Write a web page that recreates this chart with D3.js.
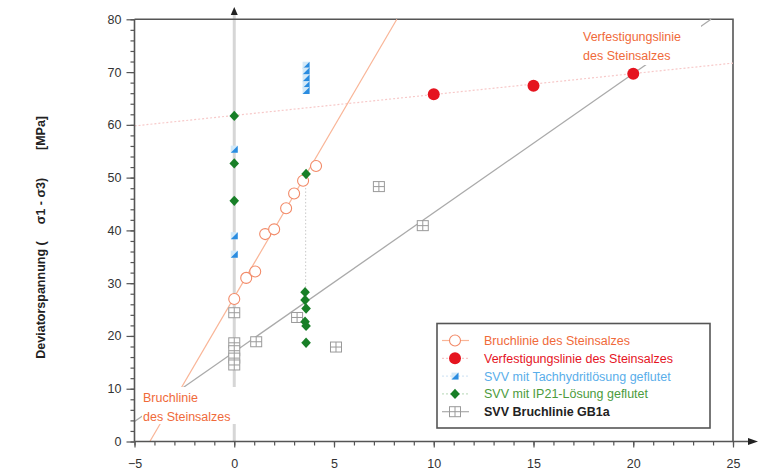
<!DOCTYPE html>
<html><head><meta charset="utf-8">
<script src="https://cdn.jsdelivr.net/npm/d3@7"></script>
<style>
html,body{margin:0;padding:0;background:#fff;}
svg{display:block;font-family:"Liberation Sans",Arial,sans-serif;}
</style></head>
<body>
<svg id="c" width="774" height="472"></svg>
<script>
// ---- data ----
const xTicks = [-5, 0, 5, 10, 15, 20, 25];
const yTicks = [0, 10, 20, 30, 40, 50, 60, 70, 80];
const bruchPts = [[0,27],[0.6,31],[1.05,32.2],[1.55,39.3],[2,40.2],[2.6,44.2],[3,47],[3.45,49.4],[4.1,52.2]];
const verfPts = [[10,65.8],[15,67.4],[20,69.7]];
const tachPts = [[0,55.4],[0,39.0],[0,35.5],[3.6,71.3],[3.6,70.2],[3.6,68.9],[3.6,67.6],[3.6,66.5]];
const ip21Pts = [[0,61.7],[0,52.7],[0,45.6],[3.6,50.7],[3.55,28.3],[3.55,26.8],[3.6,25.2],[3.55,22.7],[3.6,21.9],[3.6,18.7]];
const gb1aPts = [[0,24.4],[0,18.7],[0,17.2],[0,15.8],[0,14.5],[1.1,18.9],[3.15,23.5],[5.1,17.9],[7.25,48.3],[9.45,40.9]];
const bruchLine = [[-4.23,0],[8.15,80]];
const verfLine = [[-5,59.8],[25,71.7]];
const gb1aLine = [[-5,3.8],[23.9,80]];
const ip21Dotted = [[3.58,50.7],[3.58,28.3]];
const legendLabels = ["Bruchlinie des Steinsalzes","Verfestigungslinie des Steinsalzes","SVV mit Tachhydritlösung geflutet","SVV mit IP21-Lösung geflutet","SVV Bruchlinie GB1a"];

// ---- styles ----
const C = {orangeLine:"#f9b597", orangeMk:"#f28a68", orangeTxt:"#f06a3a", red:"#e5141f", redLine:"#f7c9c9",
  blue:"#2a8ce0", blueLight:"#d3e9f8", blueTxt:"#5aaeea", green:"#187f27", greenTxt:"#4c9b3c", greenLine:"#c4e0c4",
  gray:"#aaaaaa", grayMk:"#9a9a9a", axis:"#555", txt:"#333"};

const svg = d3.select("#c");
const x = d3.scaleLinear().domain([-5,25]).range([134.5,733]);
const y = d3.scaleLinear().domain([0,80]).range([441.5,19.3]);
const line = d3.line().x(d=>x(d[0])).y(d=>y(d[1]));

// zero vertical line
svg.append("line").attr("x1",x(0)).attr("x2",x(0)).attr("y1",10).attr("y2",y(0))
  .attr("stroke","#d6d6d6").attr("stroke-width",3);
svg.append("path").attr("d",`M${x(0)-3.5},${15} L${x(0)},${7} L${x(0)+3.5},${15} Z`).attr("fill","#222");

// frame top & right
svg.append("path").attr("d",`M${x(-5)},${y(80)} H${x(25)} V${y(0)}`).attr("fill","none")
  .attr("stroke",C.axis).attr("stroke-width",1.6);

// lines
svg.append("path").attr("d",line(verfLine)).attr("fill","none").attr("stroke",C.redLine).attr("stroke-width",1.2).attr("stroke-dasharray","2,2");
svg.append("path").attr("d",line(gb1aLine)).attr("fill","none").attr("stroke",C.gray).attr("stroke-width",1.3);
svg.append("path").attr("d",line(bruchLine)).attr("fill","none").attr("stroke",C.orangeLine).attr("stroke-width",1.2);
svg.append("path").attr("d",line(ip21Dotted)).attr("fill","none").attr("stroke","#c8c8c8").attr("stroke-width",1).attr("stroke-dasharray","1.5,2");

// annotations with white background boxes
function note(lines, x0, y0, bx, by, bw, bh){
  svg.append("rect").attr("x",bx).attr("y",by).attr("width",bw).attr("height",bh).attr("fill","#fff");
  lines.forEach((t,i)=>svg.append("text").attr("x",x0).attr("y",y0+i*19).attr("font-size",12.5)
    .attr("fill",C.orangeTxt).text(t));
}
note(["Verfestigungslinie","des Steinsalzes"], 583, 41, 580, 24, 121, 41);
note(["Bruchlinie","des Steinsalzes"], 143, 402, 142, 387, 108, 37);

// markers
function circleOpen(g){ g.append("circle").attr("r",5.5).attr("fill","#fff").attr("stroke",C.orangeMk).attr("stroke-width",1.1); }
function circleRed(g){ g.append("circle").attr("r",6).attr("fill",C.red); }
function tach(g){
  g.append("rect").attr("x",-3.5).attr("y",-3.5).attr("width",7).attr("height",7).attr("fill",C.blueLight);
  g.append("path").attr("d","M3.5,-3.5 L3.5,3.5 L-3.5,3.5 Z").attr("fill",C.blue);
}
function diamond(g){ g.append("path").attr("d","M0,-5.2 L4.8,0 L0,5.2 L-4.8,0 Z").attr("fill",C.green); }
function sq(g){
  g.append("rect").attr("x",-5.5).attr("y",-5).attr("width",11).attr("height",10).attr("fill","#fff").attr("stroke",C.grayMk).attr("stroke-width",1);
  g.append("path").attr("d","M0,-5 V5 M-5.5,0 H5.5").attr("stroke",C.grayMk).attr("stroke-width",1);
}
function plot(data, fn){
  data.forEach(d=>{ const g = svg.append("g").attr("transform",`translate(${x(d[0])},${y(d[1])})`); fn(g); });
}
plot(gb1aPts, sq);
plot(bruchPts, circleOpen);
plot(verfPts, circleRed);
plot(tachPts, tach);
plot(ip21Pts, diamond);

// axes
const xAxisMinor = d3.axisBottom(x).tickValues(d3.range(-5,26,1)).tickSize(4).tickFormat("");
const gxm = svg.append("g").attr("transform",`translate(0,${y(0)})`).call(xAxisMinor);
const gx = svg.append("g").attr("transform",`translate(0,${y(0)})`)
  .call(d3.axisBottom(x).tickValues(xTicks).tickSize(6).tickPadding(12));
[gxm,gx].forEach(g=>{ g.select(".domain").remove(); g.selectAll("line").attr("stroke",C.axis).attr("stroke-width",1.2); });
gx.selectAll("text").attr("font-size",12.5).attr("fill",C.txt).attr("font-family","Liberation Sans, Arial, sans-serif");
svg.append("line").attr("x1",x(-5)).attr("x2",752).attr("y1",y(0)).attr("y2",y(0)).attr("stroke",C.axis).attr("stroke-width",1.6);
svg.append("path").attr("d",`M748,${y(0)-3.5} L758,${y(0)} L748,${y(0)+3.5} Z`).attr("fill","#222");

const yAxisMinor = d3.axisLeft(y).tickValues(d3.range(0,81,2)).tickSize(4).tickFormat("");
const gym = svg.append("g").attr("transform",`translate(${x(-5)},0)`).call(yAxisMinor);
const gy = svg.append("g").attr("transform",`translate(${x(-5)},0)`)
  .call(d3.axisLeft(y).tickValues(yTicks).tickSize(8).tickPadding(5));
[gym,gy].forEach(g=>{ g.select(".domain").remove(); g.selectAll("line").attr("stroke",C.axis).attr("stroke-width",1.2); });
gy.selectAll("text").attr("font-size",12.5).attr("fill",C.txt).attr("font-family","Liberation Sans, Arial, sans-serif");
svg.append("line").attr("x1",x(-5)).attr("x2",x(-5)).attr("y1",y(80)).attr("y2",y(0)).attr("stroke",C.axis).attr("stroke-width",1.6);

// y label pieces
const yl = svg.append("g").attr("transform","translate(45,0) rotate(-90)").attr("font-size",12.5).attr("font-weight","bold").attr("fill","#222");
yl.append("text").attr("x",-300).attr("text-anchor","middle").text("Deviatorspannung (");
yl.append("text").attr("x",-201).attr("text-anchor","middle").text("σ1 - σ3)");
yl.append("text").attr("x",-133).attr("text-anchor","middle").text("[MPa]");

// legend
const lg = svg.append("g");
lg.append("rect").attr("x",437).attr("y",323.5).attr("width",273).attr("height",104.5).attr("fill","#fff").attr("stroke",C.axis).attr("stroke-width",1.6);
const legStyles = [
  {c:C.orangeTxt, line:C.orangeLine, dash:null, mk:circleOpen, w:"normal"},
  {c:C.red, line:C.redLine, dash:"2,2", mk:circleRed, w:"normal"},
  {c:C.blueTxt, line:"#d6e8f6", dash:"2,2", mk:tach, w:"normal"},
  {c:C.greenTxt, line:C.greenLine, dash:"2,2", mk:diamond, w:"normal"},
  {c:"#222", line:C.gray, dash:null, mk:sq, w:"bold"}
];
legendLabels.forEach((t,i)=>{
  const cy = 340.5 + i*17.8;
  const s = legStyles[i];
  lg.append("line").attr("x1",442).attr("x2",469).attr("y1",cy).attr("y2",cy).attr("stroke",s.line).attr("stroke-width",1.2).attr("stroke-dasharray",s.dash);
  const g = lg.append("g").attr("transform",`translate(455,${cy})`); s.mk(g);
  lg.append("text").attr("x",484).attr("y",cy+4.5).attr("font-size",12.5).attr("font-weight",s.w).attr("fill",s.c).text(t);
});
</script>
</body></html>
